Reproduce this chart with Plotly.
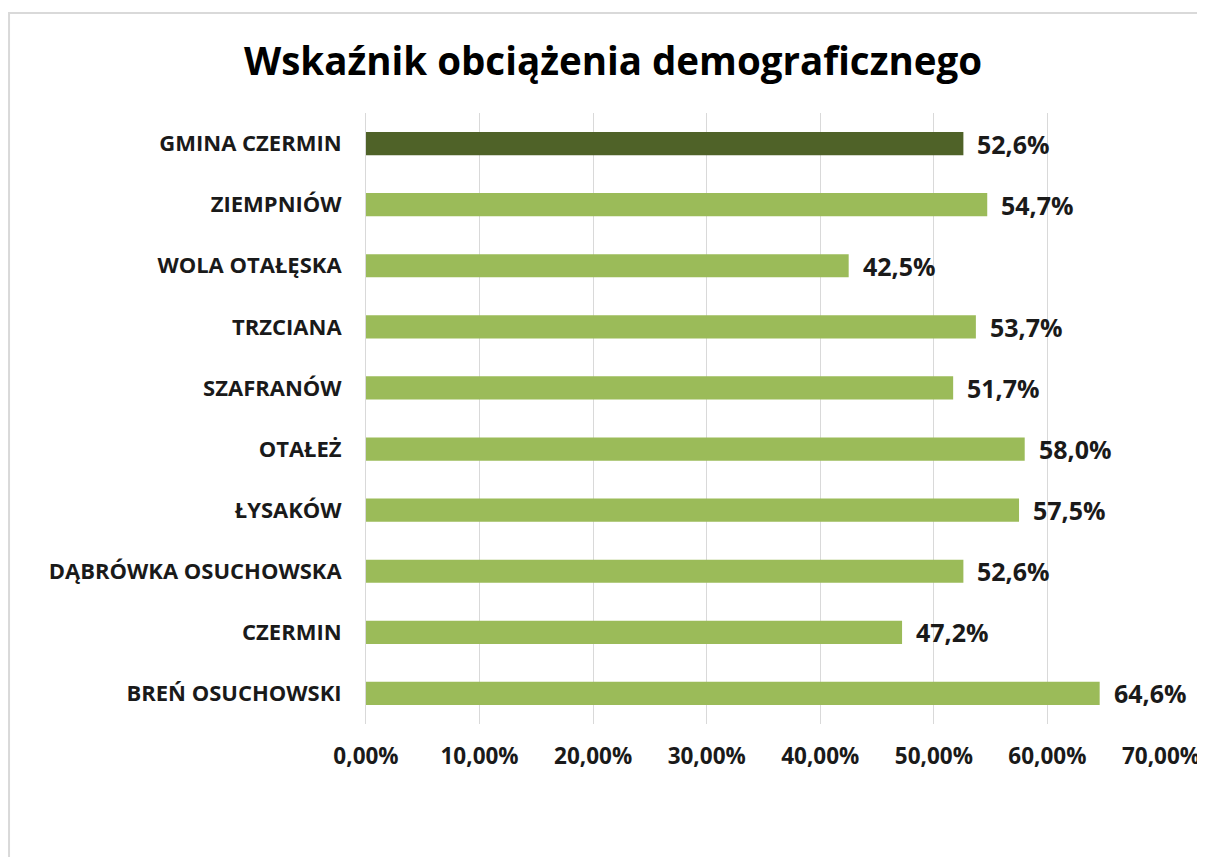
import plotly.graph_objects as go

categories = ["GMINA CZERMIN", "ZIEMPNIÓW", "WOLA OTAŁĘSKA", "TRZCIANA", "SZAFRANÓW",
              "OTAŁEŻ", "ŁYSAKÓW", "DĄBRÓWKA OSUCHOWSKA", "CZERMIN", "BREŃ OSUCHOWSKI"]
values = [0.526, 0.547, 0.425, 0.537, 0.517, 0.580, 0.575, 0.526, 0.472, 0.646]
bar_colors = ["#4F6228"] + ["#9BBB59"] * 9
labels = [f"{v*100:.1f}".replace(".", ",") + "%" for v in values]
title_text = "Wskaźnik obciążenia demograficznego"
FONT = "Open Sans"

W, H = 1197, 849
L, R, T, B = 358, 44, 105, 133

fig = go.Figure()
fig.add_trace(go.Bar(
    x=values, y=categories, orientation="h",
    marker=dict(color=bar_colors, line=dict(width=0)),
    width=0.38, hoverinfo="skip",
))
for v, c, t in zip(values, categories, labels):
    fig.add_annotation(x=v, y=c, text=t, showarrow=False, xanchor="left",
                       xshift=12, font=dict(family=FONT, size=25, color="#1a1a1a", weight="bold"))

fig.update_layout(
    width=W, height=H,
    margin=dict(l=L, r=R, t=T, b=B, autoexpand=False),
    paper_bgcolor="white", plot_bgcolor="white",
    separators=", ",
    showlegend=False,
    title=dict(text=title_text, x=605 / W, xanchor="center", y=1 - 54 / H, yanchor="middle",
               font=dict(family=FONT, size=38.5, color="#000000", weight="bold")),
    xaxis=dict(range=[0, 0.70], dtick=0.10, tickformat=".2%", showgrid=True,
               gridcolor="#D9D9D9", gridwidth=1, zeroline=False, showline=False,
               ticks="", ticklabelstandoff=16, automargin=False,
               tickfont=dict(family=FONT, size=22.5, color="#1a1a1a", weight="bold")),
    yaxis=dict(autorange="reversed", showgrid=False, showline=True, linecolor="#D9D9D9",
               ticks="", ticklabelstandoff=19, automargin=False,
               tickfont=dict(family=FONT, size=22, color="#1a1a1a", weight="bold")),
    shapes=[dict(type="rect", xref="paper", yref="paper", x0=-0.4490, x1=1.2, y0=-0.4, y1=1.1637,
                 line=dict(color="#D9D9D9", width=2), fillcolor="rgba(0,0,0,0)", layer="below")],
)
fig.write_html("out.html")
